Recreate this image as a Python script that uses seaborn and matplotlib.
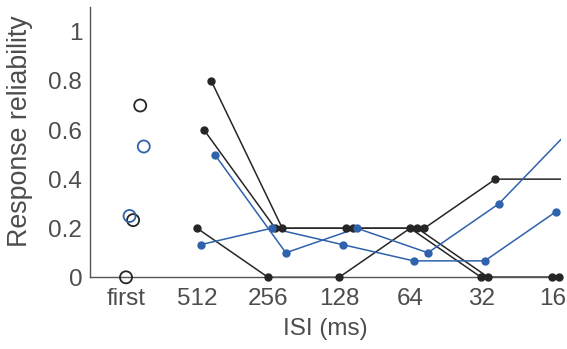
import matplotlib
matplotlib.use("Agg")
import matplotlib.pyplot as plt
import seaborn as sns
import numpy as np
import pandas as pd

# categorias do eixo x
isi_labels = ['first', '512', '256', '128', '64', '32', '16']

# confiabilidade da resposta: primeiro estimulo e depois cada ISI
black_first = [0.0, 0.233, 0.7]
black_isi = [
    [0.2, 0.0, 0.0, 0.2, 0.0, 0.0],
    [0.6, 0.2, 0.2, 0.2, 0.0, 0.0],
    [0.8, 0.2, 0.2, 0.2, 0.4, 0.4],
]
blue_first = [0.25, 0.533]
blue_isi = [
    [0.133, 0.2, 0.133, 0.067, 0.067, 0.267],
    [0.5, 0.1, 0.2, 0.1, 0.3, 0.6],
]

# deslocamento horizontal de cada celula (para nao sobrepor)
black_jitter = [0.0, 0.1, 0.2]
blue_jitter = [0.05, 0.25]

BLACK = '#262626'
BLUE = '#2f62ad'
AXCOL = '#555555'
TXT = '#4d4d4d'
FS = 17.5
XMIN, XMAX = -0.5, 6.12

sns.set_style("white")
plt.rcParams['font.family'] = ['Liberation Sans', 'DejaVu Sans']

fig = plt.figure(figsize=(5.67, 3.49), dpi=100)
ax = fig.add_axes([0.1596, 0.2054, 0.8294, 0.7736])

groups = [(black_first, black_isi, black_jitter, BLACK),
          (blue_first, blue_isi, blue_jitter, BLUE)]

for first_vals, isi_vals, jit, cor in groups:
    # pontos "first" como circulos abertos
    df_first = pd.DataFrame({'x': np.array(jit) + 0.0, 'y': first_vals})
    sns.scatterplot(data=df_first, x='x', y='y', ax=ax, marker='o', s=75,
                    facecolor='none', edgecolor=cor, linewidth=1.3,
                    clip_on=False, zorder=3)
    # linhas para cada ISI
    for vals, j in zip(isi_vals, jit):
        xs = np.arange(1, len(vals) + 1) + j
        df = pd.DataFrame({'x': xs, 'y': vals})
        sns.lineplot(data=df, x='x', y='y', ax=ax, color=cor, lw=1.1,
                     sort=False, estimator=None, zorder=2)
        dentro = df[df['x'] <= XMAX]
        ax.plot(dentro['x'], dentro['y'], ls='none', marker='o', ms=5,
                color=cor, clip_on=False, zorder=3)

ax.set_xlim(XMIN, XMAX)
ax.set_ylim(0, 1.1)
ax.set_xticks(range(len(isi_labels)))
ax.set_xticklabels(isi_labels)
ax.set_yticks([0, 0.2, 0.4, 0.6, 0.8, 1])
ax.set_yticklabels(['0', '0.2', '0.4', '0.6', '0.8', '1'])

sns.despine(ax=ax, top=True, right=True)
for s in ['left', 'bottom']:
    ax.spines[s].set_color(AXCOL)
    ax.spines[s].set_linewidth(1.0)

ax.tick_params(axis='both', direction='in', length=3, width=0.8,
               colors=AXCOL, labelsize=FS, labelcolor=TXT)
ax.tick_params(axis='x', pad=8)
ax.tick_params(axis='y', pad=6)

ax.set_xlabel('ISI (ms)', fontsize=FS, color=TXT)
ax.set_ylabel('Response reliability', fontsize=FS * 1.1, color=TXT)
ax.xaxis.set_label_coords(0.5, -0.151)
ax.yaxis.set_label_coords(-0.122, 0.54)

fig.savefig('out.png', dpi=100)
